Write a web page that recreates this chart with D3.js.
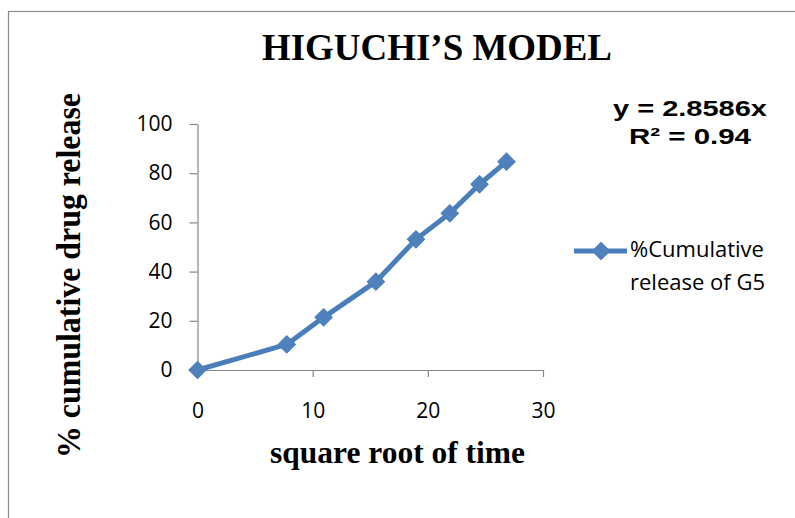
<!DOCTYPE html>
<html>
<head>
<meta charset="utf-8">
<script src="https://cdn.jsdelivr.net/npm/d3@7"></script>
<style>
    body { margin: 0; background: #fff; }
    svg { display: block; }
</style>
</head>
<body>
<div class="visholder"></div>
<script>
// data
const sqrtTime = [0, 7.75, 10.95, 15.49, 18.97, 21.91, 24.49, 26.83];
const cumRelease = [0, 10.4, 21.4, 35.9, 53.1, 63.7, 75.5, 84.7];
const xTicks = [0, 10, 20, 30];
const yTicks = [0, 20, 40, 60, 80, 100];
const seriesName = ["%Cumulative", "release of G5"];
const equation = ["y = 2.8586x", "R\u00b2 = 0.94"];

// constants
const width = 795,
    height = 518,
    blue = "#4a7ebb",
    axisGrey = "#868686";

let svg = d3.select(".visholder").append("svg")
    .attr("width", width)
    .attr("height", height);

// outer frame of the chart area
svg.append("rect")
    .attr("x", 8.5).attr("y", 11.5)
    .attr("width", 820).attr("height", 540)
    .attr("fill", "#fff")
    .attr("stroke", "#8a8a8a")
    .attr("stroke-width", 1.2);

// title
svg.append("text").text("HIGUCHI\u2019S MODEL")
    .attr("x", 262).attr("y", 60)
    .attr("textLength", 350).attr("lengthAdjust", "spacingAndGlyphs")
    .style("font-family", "'Liberation Serif', 'Times New Roman', serif")
    .style("font-weight", "bold")
    .style("font-size", "38px");

// scales
let xScale = d3.scaleLinear().domain([0, 30]).range([197.5, 543]);
let yScale = d3.scaleLinear().domain([0, 100]).range([370, 124]);

// x axis
let xAxis = d3.axisBottom(xScale).tickValues(xTicks).tickSize(7).tickPadding(26).tickSizeOuter(0);
let gx = svg.append("g").attr("transform", "translate(0,370)").call(xAxis);

// y axis
let yAxis = d3.axisLeft(yScale).tickValues(yTicks).tickSize(8).tickPadding(17).tickSizeOuter(0);
let gy = svg.append("g").attr("transform", "translate(197.5,0)").call(yAxis);

[gx, gy].forEach(g => {
    g.selectAll("path, line").attr("stroke", axisGrey).attr("stroke-width", 1.2);
    g.selectAll("text")
        .attr("fill", "#000")
        .style("font-family", "'Open Sans', sans-serif")
        .style("font-size", "21px");
});

// axis titles
svg.append("text").text("square root of time")
    .attr("x", 270).attr("y", 463)
    .attr("textLength", 255).attr("lengthAdjust", "spacingAndGlyphs")
    .style("font-family", "'Liberation Serif', 'Times New Roman', serif")
    .style("font-weight", "bold")
    .style("font-size", "31px");

svg.append("text").text("% cumulative drug release")
    .attr("transform", "translate(80,458) rotate(-90)")
    .attr("textLength", 365).attr("lengthAdjust", "spacingAndGlyphs")
    .style("font-family", "'Liberation Serif', 'Times New Roman', serif")
    .style("font-weight", "bold")
    .style("font-size", "33px");

// series line
let points = sqrtTime.map((x, i) => [x, cumRelease[i]]);
let line = d3.line().x(d => xScale(d[0])).y(d => yScale(d[1]));
svg.append("path").datum(points)
    .attr("d", line)
    .attr("fill", "none")
    .attr("stroke", blue)
    .attr("stroke-width", 5)
    .attr("stroke-linejoin", "round");

// diamond markers
let diamond = d3.symbol().type(d3.symbolSquare).size(150);
svg.selectAll(".marker").data(points).enter().append("path")
    .attr("class", "marker")
    .attr("d", diamond)
    .attr("transform", d => `translate(${xScale(d[0])},${yScale(d[1])}) rotate(45)`)
    .attr("fill", "#4f81bd")
    .attr("stroke", blue)
    .attr("stroke-width", 1);

// legend
svg.append("line")
    .attr("x1", 574).attr("x2", 627)
    .attr("y1", 251).attr("y2", 251)
    .attr("stroke", blue).attr("stroke-width", 5);
svg.append("path")
    .attr("d", diamond)
    .attr("transform", "translate(601,251) rotate(45)")
    .attr("fill", "#4f81bd")
    .attr("stroke", blue);
svg.selectAll(".legend-text").data(seriesName).enter().append("text")
    .attr("class", "legend-text")
    .text(d => d)
    .attr("x", 630)
    .attr("y", (d, i) => 257 + i * 33)
    .style("font-family", "'Open Sans', sans-serif")
    .style("font-size", "22px");

// trendline equation
svg.selectAll(".eq").data(equation).enter().append("text")
    .attr("class", "eq")
    .text(d => d)
    .attr("x", (d, i) => i === 0 ? 613 : 629)
    .attr("y", (d, i) => i === 0 ? 116 : 144)
    .attr("textLength", (d, i) => i === 0 ? 154 : 122)
    .attr("lengthAdjust", "spacingAndGlyphs")
    .style("font-family", "'Liberation Sans', Arial, sans-serif")
    .style("font-weight", "bold")
    .style("font-size", "22px");
</script>
</body>
</html>
